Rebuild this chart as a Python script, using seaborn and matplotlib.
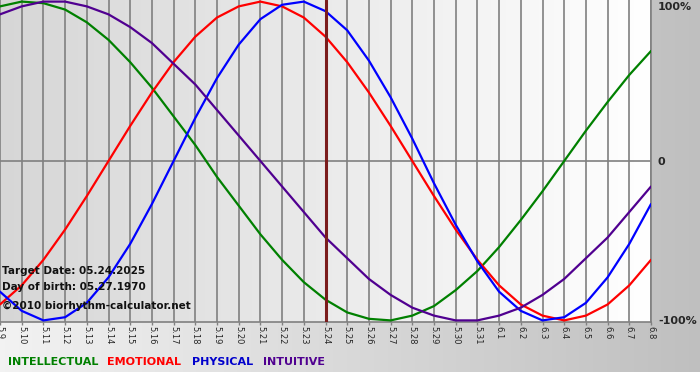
import numpy as np
import pandas as pd
import matplotlib
matplotlib.use('Agg')
import matplotlib.pyplot as plt
import seaborn as sns

# day labels, 5.9 .. 6.8
dates = ['5.9', '5.10', '5.11', '5.12', '5.13', '5.14', '5.15', '5.16', '5.17', '5.18',
         '5.19', '5.20', '5.21', '5.22', '5.23', '5.24', '5.25', '5.26', '5.27', '5.28',
         '5.29', '5.30', '5.31', '6.1', '6.2', '6.3', '6.4', '6.5', '6.6', '6.7', '6.8']
target_idx = 15  # 5.24

# cycle values in percent, read per day
intellectual = [97, 100, 99, 95, 87, 76, 62, 46, 28, 10, -10, -28, -46, -62, -76, -87,
                -95, -99, -100, -97, -91, -81, -69, -54, -37, -19, 0, 19, 37, 54, 69]
emotional = [-90, -78, -62, -43, -22, 0, 22, 43, 62, 78, 90, 97, 100, 97, 90, 78,
             62, 43, 22, 0, -22, -43, -62, -78, -90, -97, -100, -97, -90, -78, -62]
physical = [-82, -94, -100, -98, -89, -73, -52, -27, 0, 27, 52, 73, 89, 98, 100, 94,
            82, 63, 40, 14, -14, -40, -63, -82, -94, -100, -98, -89, -73, -52, -27]
intuitive = [92, 97, 100, 100, 97, 92, 84, 74, 61, 48, 32, 16, 0, -16, -32, -48,
             -61, -74, -84, -92, -97, -100, -100, -97, -92, -84, -74, -61, -48, -32, -16]

cycles = ['INTELLECTUAL', 'EMOTIONAL', 'PHYSICAL', 'INTUITIVE']
colors = ['#008000', '#ff0000', '#0000ff', '#500090']
text_colors = ['#008000', '#ff0000', '#0000cc', '#500090']

df = pd.concat([
    pd.DataFrame({'day': range(len(dates)), 'value': vals, 'cycle': name})
    for name, vals in zip(cycles, [intellectual, emotional, physical, intuitive])
])

sns.set_theme(style='white')
plt.rcParams['font.family'] = ['DejaVu Sans']

W, H = 700, 380
fig = plt.figure(figsize=(7, 3.8), dpi=100)
fig.patch.set_facecolor('white')

# figure background gradient (light left -> gray right)
bg = fig.add_axes([0, 8 / H, 1, 372 / H], zorder=-10)
g = np.linspace(0.95, 0.75, 256)
bg.imshow(np.dstack([g, g, g]).repeat(2, axis=0), aspect='auto',
          extent=[0, 1, 0, 1])
bg.set_axis_off()

ax = fig.add_axes([0, 1 - 322 / H, 651 / W, 322 / H])
ax.patch.set_alpha(0)
g2 = np.linspace(0.84, 1.0, 256)
ax.imshow(np.dstack([g2, g2, g2]).repeat(2, axis=0), aspect='auto',
          extent=[0, len(dates) - 1, -101, 101], zorder=0)

ax.set_axisbelow(True)
ax.grid(axis='x', color='#808080', lw=1.2)
ax.axhline(0, color='#808080', lw=1.2, zorder=1)

sns.lineplot(data=df, x='day', y='value', hue='cycle', hue_order=cycles,
             palette=colors, linewidth=1.6, legend=False, ax=ax, zorder=3)

ax.axvline(target_idx, color='#7a1c1c', lw=2.2, zorder=4)

ax.set_xlim(0, len(dates) - 1)
ax.set_ylim(-101, 101)
ax.set_xticks(range(len(dates)))
ax.set_xticklabels(dates, rotation=270, fontsize=6)
ax.tick_params(axis='x', direction='out', length=2.2, width=1, color='#808080',
               pad=1, bottom=True)
ax.yaxis.tick_right()
ax.set_yticks([-100, 0, 100])
ax.set_yticklabels(['-100%', '0', '100%'], fontsize=8, fontweight='bold')
ax.tick_params(axis='y', length=0, pad=5)
ax.get_yticklabels()[2].set_va('top')
ax.set_xlabel('')
ax.set_ylabel('')
for s in ['top', 'left']:
    ax.spines[s].set_visible(False)
for s in ['bottom', 'right']:
    ax.spines[s].set_color('#808080')
    ax.spines[s].set_linewidth(1.2)

# info text
info = [('Target Date: 05.24.2025', 271), ('Day of birth: 05.27.1970', 287),
        ('\u00a92010 biorhythm-calculator.net', 306)]
for txt, y in info:
    fig.text(2 / W, 1 - y / H, txt, fontsize=7.5, fontweight='bold', color='#111111',
             va='center', ha='left', zorder=10)

# colored cycle names
for name, c, x in zip(cycles, text_colors, [8, 107, 192, 263]):
    fig.text(x / W, 1 - 362 / H, name, fontsize=8, fontweight='bold', color=c,
             va='center', ha='left')

fig.savefig('out.png', dpi=100)
